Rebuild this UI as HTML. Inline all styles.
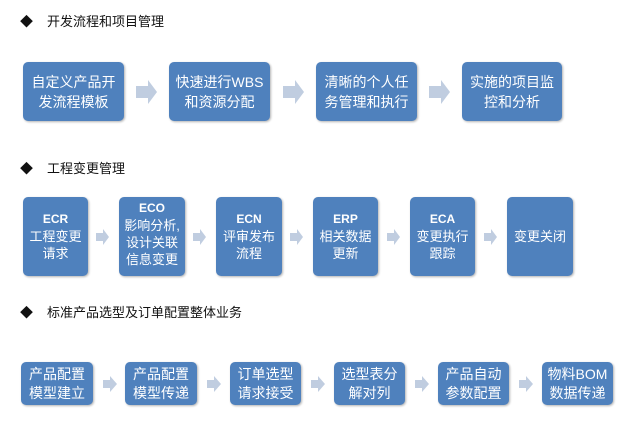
<!DOCTYPE html>
<html><head><meta charset="utf-8"><style>
body{margin:0;width:638px;height:427px;background:#fff;position:relative;overflow:hidden;font-family:"Liberation Sans","Noto Sans CJK SC",sans-serif}
.h{position:absolute;left:20px;font-size:13px;color:#111}
.h span{display:inline-block;width:27px}
.b{position:absolute;background:#4f81bd;border-radius:5px;color:#fff;display:flex;flex-direction:column;align-items:center;justify-content:center;text-align:center;box-shadow:1px 1px 2px rgba(0,0,0,.3)}
.a{position:absolute}
</style></head><body>
<div class="h" style="top:11px"><span>◆</span>开发流程和项目管理</div>
<div class="h" style="top:158px"><span>◆</span>工程变更管理</div>
<div class="h" style="top:302px"><span>◆</span>标准产品选型及订单配置整体业务</div>

<div class="b" style="left:23px;top:62px;width:101px;height:59px;font-size:14px;line-height:20px">自定义产品开<br>发流程模板</div>
<div class="b" style="left:169px;top:62px;width:101px;height:59px;font-size:14px;line-height:20px">快速进行WBS<br>和资源分配</div>
<div class="b" style="left:316px;top:62px;width:101px;height:59px;font-size:14px;line-height:20px">清晰的个人任<br>务管理和执行</div>
<div class="b" style="left:462px;top:62px;width:100px;height:59px;font-size:14px;line-height:20px">实施的项目监<br>控和分析</div>

<div class="b" style="left:23px;top:197px;width:65px;height:79px;font-size:13px;line-height:17px"><b style="font-size:12px">ECR</b>工程变更<br>请求</div>
<div class="b" style="left:119px;top:197px;width:66px;height:79px;font-size:13px;line-height:17px;justify-content:flex-start;padding-top:3px;box-sizing:border-box"><b style="font-size:12px">ECO</b>影响分析,<br>设计关联<br>信息变更</div>
<div class="b" style="left:216px;top:197px;width:66px;height:79px;font-size:13px;line-height:17px"><b style="font-size:12px">ECN</b>评审发布<br>流程</div>
<div class="b" style="left:313px;top:197px;width:65px;height:79px;font-size:13px;line-height:17px"><b style="font-size:12px">ERP</b>相关数据<br>更新</div>
<div class="b" style="left:410px;top:197px;width:65px;height:79px;font-size:13px;line-height:17px"><b style="font-size:12px">ECA</b>变更执行<br>跟踪</div>
<div class="b" style="left:507px;top:197px;width:66px;height:79px;font-size:13px;line-height:17px">变更关闭</div>

<div class="b" style="left:21px;top:362px;width:72px;height:43px;font-size:14px;line-height:19px">产品配置<br>模型建立</div>
<div class="b" style="left:125px;top:362px;width:72px;height:43px;font-size:14px;line-height:19px">产品配置<br>模型传递</div>
<div class="b" style="left:230px;top:362px;width:71px;height:43px;font-size:14px;line-height:19px">订单选型<br>请求接受</div>
<div class="b" style="left:334px;top:362px;width:71px;height:43px;font-size:14px;line-height:19px">选型表分<br>解对列</div>
<div class="b" style="left:438px;top:362px;width:71px;height:43px;font-size:14px;line-height:19px">产品自动<br>参数配置</div>
<div class="b" style="left:542px;top:362px;width:71px;height:43px;font-size:14px;line-height:19px">物料BOM<br>数据传递</div>

<svg class="a" style="left:0;top:0" width="638" height="427">
<g fill="#c0cde0">
<polygon points="136,86 148,86 148,80 157,92 148,104 148,98 136,98"/>
<polygon points="283,86 295,86 295,80 304,92 295,104 295,98 283,98"/>
<polygon points="429,86 441,86 441,80 450,92 441,104 441,98 429,98"/>
<g id="s">
<polygon points="96,233 103,233 103,229 109,237 103,245 103,241 96,241"/>
</g>
<use href="#s" x="97"/><use href="#s" x="194"/><use href="#s" x="291"/><use href="#s" x="388"/>
<g id="t">
<polygon points="103,380 110,380 110,376 117,384 110,392 110,388 103,388"/>
</g>
<use href="#t" x="104"/><use href="#t" x="208"/><use href="#t" x="312"/><use href="#t" x="416"/>
</g>
</svg>
</body></html>
